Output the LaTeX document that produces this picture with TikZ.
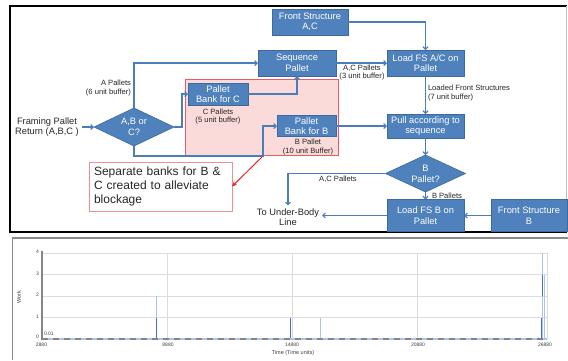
\documentclass[tikz,border=0pt]{standalone}
\usepackage{fontspec}
\setmainfont{Liberation Sans}
\usetikzlibrary{arrows.meta,shapes.geometric}
\definecolor{boxblue}{HTML}{4F81BD}
\definecolor{boxedge}{HTML}{3C6A9E}
\definecolor{linkblue}{HTML}{4A7EBB}
\definecolor{pinkfill}{HTML}{FBDADA}
\definecolor{pinkedge}{HTML}{E35D66}
\definecolor{notedge}{HTML}{EE8F96}
\definecolor{redarrow}{HTML}{E0262A}
\definecolor{gridgray}{HTML}{DCDCDC}
\definecolor{axisgray}{HTML}{858585}
\definecolor{framegray}{HTML}{8A8A8A}
\definecolor{spikeblue}{HTML}{3F6FD8}
\definecolor{spikelight}{HTML}{A9C3F0}
\definecolor{lbltext}{HTML}{262626}
\begin{document}
\begin{tikzpicture}[x=1pt,y=-1pt,
  every node/.style={inner sep=0pt, outer sep=0pt},
  procbox/.style={draw=boxedge, fill=boxblue, text=white, align=center,
    font=\fontsize{9.3}{10.5}\selectfont, line width=0.6pt},
  decbox/.style={diamond, draw=boxedge, fill=boxblue, text=white, align=center,
    font=\fontsize{9.3}{11}\selectfont, line width=0.6pt, aspect=2},
  flow/.style={draw=linkblue, line width=1.1pt, -{Straight Barb[length=2.5pt,width=5pt]}},
  lbl/.style={font=\fontsize{7.6}{8.4}\selectfont, text=lbltext},
  plain/.style={font=\fontsize{9.3}{10.5}\selectfont, text=lbltext, align=center},
  ticklbl/.style={font=\fontsize{5}{6}\selectfont, text=black!75},
]
\useasboundingbox (0,0) rectangle (568,360);
\fill[white] (0,0) rectangle (568,360);

% ---------- top panel frame ----------
\draw[black, line width=1.3pt] (567,6) -- (10,6) -- (10,232) -- (567,232);
\draw[black!25, line width=0.5pt] (566,6) -- (566,232);

% ---------- pink zone ----------
\node[draw=pinkedge, fill=pinkfill, line width=0.8pt, minimum width=153pt, minimum height=76pt] (zone) at (261.5,117) {};

% ---------- boxes ----------
\node[procbox, minimum width=76pt, minimum height=26pt] (fsac) at (310,22) {Front Structure\\A,C};
\node[procbox, minimum width=78pt, minimum height=26pt] (seq) at (297,63) {Sequence\\Pallet};
\node[procbox, minimum width=77pt, minimum height=26pt] (loadac) at (425.5,63) {Load FS A/C on\\Pallet};
\node[procbox, minimum width=60pt, minimum height=22pt] (bankc) at (218,94) {Pallet\\Bank for C};
\node[procbox, minimum width=59pt, minimum height=21pt] (bankb) at (306.5,126) {Pallet\\Bank for B};
\node[procbox, minimum width=77pt, minimum height=24pt] (pull) at (425.5,126) {Pull according to\\sequence};
\node[decbox, minimum width=80pt, minimum height=37pt] (dB) at (425.5,173.5) {B\\Pallet?};
\node[procbox, minimum width=77pt, minimum height=32pt] (loadb) at (425.5,215.5) {Load FS B on\\Pallet};
\node[procbox, minimum width=76pt, minimum height=32pt] (fsb) at (529,215.5) {Front Structure\\B};
\node[decbox, minimum width=80pt, minimum height=38pt] (dABC) at (134,127) {A,B or\\C?};

\node[plain] (fr) at (47,127) {Framing Pallet\\Return (A,B,C )};
\node[plain] (ub) at (288,217) {To Under-Body\\Line};

\node[draw=notedge, fill=white, line width=0.8pt, minimum width=143pt, minimum height=49pt,
  text width=133pt, align=left, inner xsep=5pt, font=\fontsize{12}{14}\selectfont, text=lbltext]
  (note) at (160.5,186.5) {Separate banks for B \&\\C created to alleviate\\blockage};

% ---------- labels ----------
\node[lbl, align=right, anchor=east] (la) at (131,88) {A Pallets\\(6 unit buffer)};
\node[lbl, align=center] (lc) at (218,116.5) {C Pallets\\(5 unit buffer)};
\node[lbl, align=center] (lb) at (308,147) {B Pallet\\(10 unit Buffer)};
\node[lbl, align=center] (lac) at (362,72.5) {A,C Pallets\\(3 unit buffer)};
\node[lbl, align=left, anchor=west] (lfs) at (428,93) {Loaded Front Structures\\(7 unit buffer)};
\node[lbl] (lac2) at (338,179) {A,C Pallets};
\node[lbl, anchor=west] (lbp) at (432,196) {B Pallets};

% ---------- connectors ----------
\coordinate (j1) at (263,156);
\draw[flow, shorten <=3pt] (fr.east) -- (dABC.west);
\draw[flow] (dABC.north) |- (seq.west);
\draw[flow] (dABC.east) -- ++(8,0) |- (bankc.west);
\draw[flow] (dABC.south) |- (j1) |- (bankb.west);
\draw[flow] (bankc.east) -| (seq.south);
\draw[flow] (seq.east) -- (loadac.west);
\draw[flow] (fsac.east) -| (loadac.north);
\draw[flow] (loadac.south) -- (pull.north);
\draw[flow] (bankb.east) -- (pull.west);
\draw[flow] (pull.south) -- (dB.north);
\draw[flow] (dB.south) -- (loadb.north);
\draw[flow] (fsb.west) -- (loadb.east);
\draw[flow, shorten >=3pt] (dB.west) -| (ub.north);
\draw[flow, shorten >=3pt] (loadb.west) -- (loadb.west -| ub.east);
\draw[redarrow, line width=1pt, -{Stealth[length=5pt,width=4.5pt]}] (j1) -- (note.east);

% ---------- bottom panel ----------
\draw[framegray, line width=1.6pt] (568,238) -- (12.5,238) -- (12.5,360);
% grid
\foreach \yy in {253,274.5,296,317.5} \draw[gridgray, line width=0.7pt] (42,\yy) -- (547,\yy);
\foreach \xx in {167.2,292.4,417.6} \draw[gridgray, line width=0.7pt] (\xx,253) -- (\xx,339);
\draw[gridgray, line width=0.7pt] (547,253) -- (547,339);
% spikes
\draw[spikelight, line width=1pt] (156,339) -- (156,296);
\draw[spikeblue, line width=1pt] (156,339) -- (156,317.5);
\draw[spikeblue, line width=1pt] (290.5,339) -- (290.5,317.5);
\draw[spikelight, line width=1pt] (320,339) -- (320,317.5);
\draw[spikelight, line width=1pt] (542.8,339) -- (542.8,253);
\draw[spikelight, line width=1pt] (544.3,339) -- (544.3,274.5);
\draw[spikeblue, line width=1pt] (542.3,274.5) -- (542.3,296);
\draw[spikeblue, line width=1pt] (541.3,339) -- (541.3,317.5);
% axes
\draw[axisgray, line width=1.1pt] (42,251) -- (42,340);
\draw[spikelight, line width=1.2pt] (42,339) -- (547,339);
\draw[axisgray, line width=1.2pt, dash pattern=on 6pt off 5pt] (42,339) -- (547,339);
% tick labels
\node[ticklbl] (y4) at (37.5,251.5) {4};
\node[ticklbl] (y3) at (37.5,273.5) {3};
\node[ticklbl] (y2) at (37.5,295) {2};
\node[ticklbl] (y1) at (37.5,316.5) {1};
\node[ticklbl] (y0) at (37.5,337) {0};
\node[ticklbl, anchor=west] (v001) at (44,334) {0.01};
\node[ticklbl] (x1) at (41.5,344.5) {2880};
\node[ticklbl] (x2) at (168,344.5) {8880};
\node[ticklbl] (x3) at (292,344.5) {14880};
\node[ticklbl] (x4) at (418,344.5) {20880};
\node[ticklbl] (x5) at (545,344.5) {26880};
\node[ticklbl, font=\fontsize{5.5}{6.5}\selectfont] (xt) at (293,353) {Time (Time units)};
\node[ticklbl, font=\fontsize{5.5}{6.5}\selectfont, rotate=90] (yt) at (19,297) {Work};
\end{tikzpicture}
\end{document}
